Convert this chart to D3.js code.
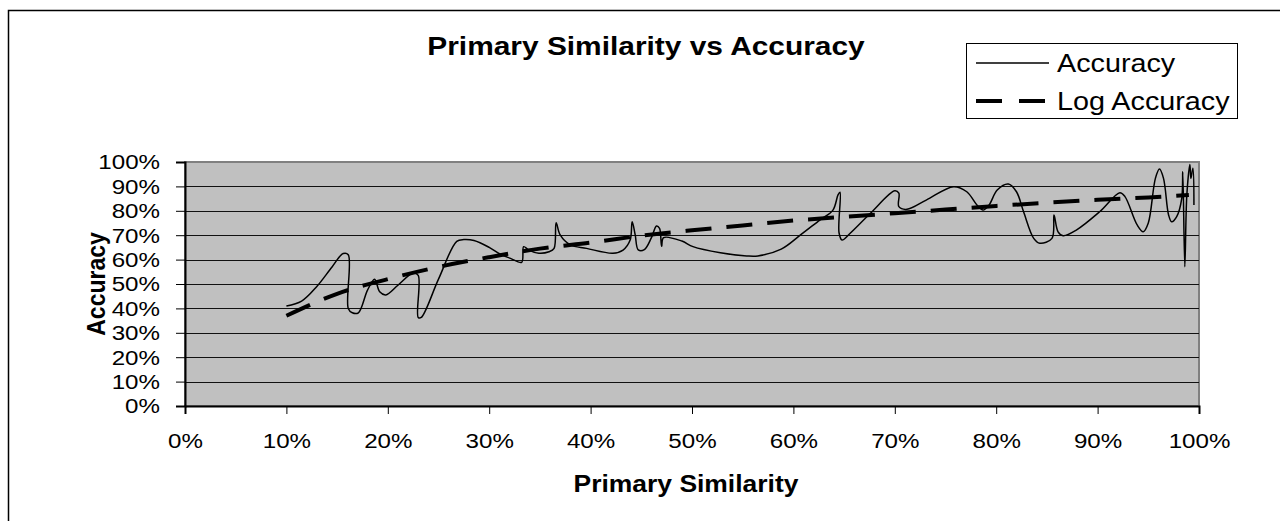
<!DOCTYPE html>
<html>
<head>
<meta charset="utf-8">
<script src="https://cdn.jsdelivr.net/npm/d3@7"></script>
<style>
  body { margin: 0; background: #fff; }
  text { font-family: Arial, "Liberation Sans", sans-serif; fill: #000; }
</style>
</head>
<body>
<div id="chart"></div>
<script>
// chart size and plot box
const svgWidth = 1280;
const svgHeight = 521;
const plot = { left: 185, top: 162, right: 1199, bottom: 406 };
const textStretch = 1.15; // the original text is a bit wider than Arial

// Accuracy series (percent)
const similarity = [10.0, 11.5, 13.0, 14.5, 15.6, 16.1, 16.1, 16.5, 17.1, 18.0, 18.7, 19.2, 19.8, 21.0, 22.5, 23.0, 23.0, 23.3, 25.0, 26.8,
  27.5, 28.5, 30.0, 31.1, 32.1, 33.2, 33.4, 33.9, 34.9, 35.9, 36.4, 36.6, 37.0, 38.0, 39.6, 42.2, 43.2, 43.9, 44.1, 44.4,
  44.7, 45.3, 46.0, 46.5, 46.8, 47.0, 47.2, 49.0, 50.1, 52.8, 55.4, 56.5, 58.8, 60.7, 62.6, 63.9, 64.4, 64.6, 64.5, 64.8,
  65.6, 67.6, 70.0, 70.4, 70.4, 71.2, 73.1, 75.8, 77.1, 78.1, 78.7, 79.3, 80.1, 81.2, 82.0, 82.7, 83.7, 84.3, 85.5, 85.7,
  86.1, 86.6, 87.9, 90.2, 92.2, 92.7, 93.9, 94.5, 95.0, 95.7, 96.1, 96.5, 97.0, 97.3, 97.8, 98.3, 98.4, 98.6, 98.8, 99.1,
  99.2, 99.4, 99.5];
const accuracy = [41.0, 43.0, 49.0, 57.0, 62.5, 62.0, 40.0, 38.2, 38.2, 47.5, 51.9, 46.8, 45.5, 49.5, 54.5, 53.5, 36.3, 36.3, 52.0, 67.5,
  68.2, 67.8, 65.0, 62.2, 60.5, 58.9, 65.3, 63.9, 62.6, 63.2, 64.6, 75.1, 70.1, 66.0, 64.6, 62.6, 63.9, 68.0, 75.5, 70.1,
  64.0, 64.1, 69.0, 73.8, 72.8, 65.5, 69.0, 67.6, 65.3, 62.8, 61.5, 61.5, 64.3, 70.1, 76.2, 80.3, 86.5, 87.6, 71.0, 68.0,
  70.8, 79.0, 88.2, 87.2, 81.7, 80.6, 84.4, 89.9, 87.8, 82.4, 80.3, 82.4, 88.5, 91.0, 87.8, 79.6, 68.7, 66.7, 68.7, 78.3,
  71.4, 69.8, 72.1, 79.6, 87.4, 85.8, 74.2, 71.4, 75.0, 93.3, 97.1, 93.3, 78.3, 75.5, 77.6, 85.1, 96.0, 57.1, 86.5, 99.0,
  93.3, 97.4, 82.4];

// Log Accuracy trend (percent)
const trendX = [10, 15, 20, 25, 30, 35, 40, 45, 50, 55, 60, 65, 70, 75, 80, 85, 90, 95, 99];
const trendY = [37.0, 46.0, 52.0, 57.0, 61.0, 64.5, 67.0, 69.8, 72.0, 74.0, 76.0, 77.5, 79.0, 80.5, 82.0, 83.3, 84.5, 85.5, 86.5];

const xTicks = [0, 10, 20, 30, 40, 50, 60, 70, 80, 90, 100];
const yTicks = [0, 10, 20, 30, 40, 50, 60, 70, 80, 90, 100];

const svg = d3.select("#chart")
  .append("svg")
  .attr("width", svgWidth)
  .attr("height", svgHeight);

// outer chart border (right and bottom edges fall outside the picture)
svg.append("rect")
  .attr("x", 8.5).attr("y", 10.5)
  .attr("width", 1300).attr("height", 600)
  .attr("fill", "#fff")
  .attr("stroke", "#000")
  .attr("stroke-width", 1.5);

const x = d3.scaleLinear().domain([0, 100]).range([plot.left, plot.right]);
const y = d3.scaleLinear().domain([0, 100]).range([plot.bottom, plot.top]);

// grey plot area
svg.append("rect")
  .attr("x", plot.left).attr("y", plot.top)
  .attr("width", plot.right - plot.left).attr("height", plot.bottom - plot.top)
  .attr("fill", "#c0c0c0")
  .attr("stroke", "#808080")
  .attr("stroke-width", 2);

// horizontal gridlines
svg.append("g")
  .selectAll("line")
  .data(yTicks.slice(1, -1))
  .join("line")
  .attr("x1", plot.left).attr("x2", plot.right)
  .attr("y1", d => Math.round(y(d)) + 0.5).attr("y2", d => Math.round(y(d)) + 0.5)
  .attr("stroke", "#111")
  .attr("stroke-width", 1);

// axes
const yAxis = svg.append("g")
  .attr("transform", `translate(${plot.left},0)`)
  .call(d3.axisLeft(y).tickValues(yTicks).tickSize(9).tickFormat(d => d + "%"));
const xAxis = svg.append("g")
  .attr("transform", `translate(0,${plot.bottom})`)
  .call(d3.axisBottom(x).tickValues(xTicks).tickSize(8).tickFormat(d => d + "%"));

[yAxis, xAxis].forEach(a => {
  a.select(".domain").attr("stroke", "#000").attr("stroke-width", 2);
  a.selectAll(".tick line").attr("stroke", "#000").attr("stroke-width", 1);
  a.selectAll(".tick text").attr("font-size", 21).attr("font-family", "Arial, 'Liberation Sans', sans-serif");
});

yAxis.selectAll(".tick text")
  .attr("x", null).attr("dy", null)
  .attr("text-anchor", "end")
  .attr("dominant-baseline", "central")
  .attr("transform", `translate(-25,0) scale(${textStretch},1)`);

xAxis.selectAll(".tick text")
  .attr("y", null).attr("dy", null)
  .attr("text-anchor", "middle")
  .attr("transform", `translate(0,42) scale(${textStretch},1)`);

// Accuracy line (smoothed, in data order)
const accPoints = similarity.map((s, i) => [s, accuracy[i]]);
svg.append("path")
  .datum(accPoints)
  .attr("fill", "none")
  .attr("stroke", "#000")
  .attr("stroke-width", 1.5)
  .attr("d", d3.line().x(d => x(d[0])).y(d => y(d[1])).curve(d3.curveCatmullRom.alpha(0.5)));

// Log Accuracy trend line
const trendPoints = trendX.map((s, i) => [s, trendY[i]]);
svg.append("path")
  .datum(trendPoints)
  .attr("fill", "none")
  .attr("stroke", "#000")
  .attr("stroke-width", 4)
  .attr("stroke-dasharray", "26,15")
  .attr("d", d3.line().x(d => x(d[0])).y(d => y(d[1])).curve(d3.curveMonotoneX));

// titles
function stretchedText(txt, tx, ty, size, weight, anchor, rotate) {
  const t = svg.append("text")
    .text(txt)
    .attr("font-size", size)
    .attr("font-weight", weight)
    .attr("text-anchor", anchor);
  if (rotate) {
    t.attr("transform", `translate(${tx},${ty}) rotate(-90) scale(1,${textStretch})`);
  } else {
    t.attr("transform", `translate(${tx},${ty}) scale(${textStretch},1)`);
  }
  return t;
}

stretchedText("Primary Similarity vs Accuracy", 646, 55, 26, "bold", "middle");
stretchedText("Primary Similarity", 686, 492, 23, "bold", "middle");
stretchedText("Accuracy", 105, 284, 23, "bold", "middle", true);

// legend
const legend = svg.append("g");
legend.append("rect")
  .attr("x", 966.5).attr("y", 43.5)
  .attr("width", 271).attr("height", 75)
  .attr("fill", "#fff")
  .attr("stroke", "#000")
  .attr("stroke-width", 1);
legend.append("line")
  .attr("x1", 976).attr("x2", 1049).attr("y1", 63).attr("y2", 63)
  .attr("stroke", "#000").attr("stroke-width", 1.5);
legend.append("line")
  .attr("x1", 976).attr("x2", 1047).attr("y1", 101).attr("y2", 101)
  .attr("stroke", "#000").attr("stroke-width", 4)
  .attr("stroke-dasharray", "26,17");
stretchedText("Accuracy", 1057, 72, 25, "normal", "start");
stretchedText("Log Accuracy", 1057, 110, 25, "normal", "start");
</script>
</body>
</html>
